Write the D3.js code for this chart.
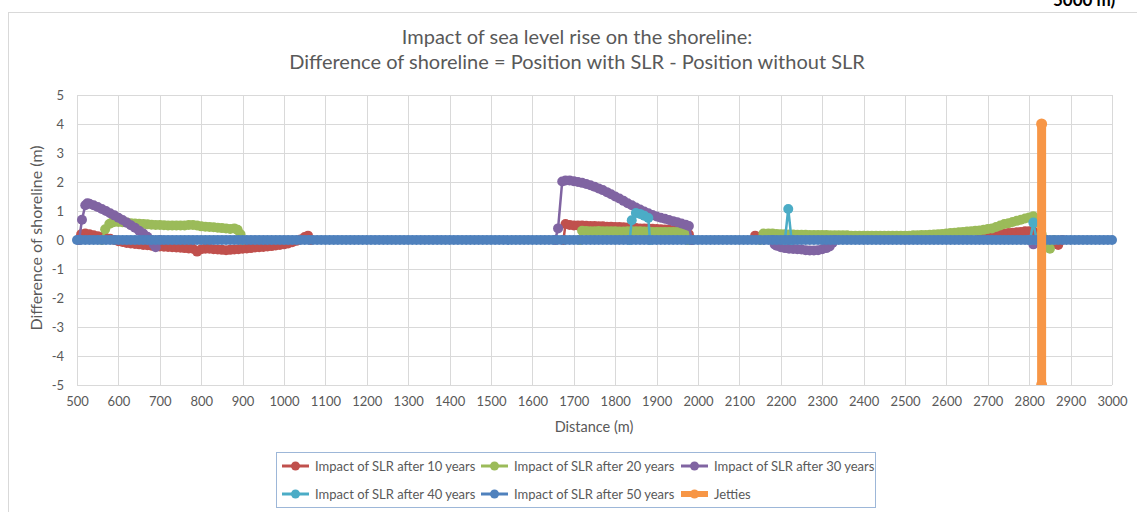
<!DOCTYPE html>
<html><head><meta charset="utf-8">
<script src="https://cdn.jsdelivr.net/npm/d3@7"></script>
<style>
html,body{margin:0;padding:0;background:#fff;}
svg{display:block;font-family:Lato,"Open Sans",sans-serif;}
</style></head>
<body>
<svg id="c" width="1137" height="512"></svg>
<script>
// ---------- data ----------
const titleLines = ["Impact of sea level rise on the shoreline:", "Difference of shoreline = Position with SLR - Position without SLR"];
const xTicks = [500,600,700,800,900,1000,1100,1200,1300,1400,1500,1600,1700,1800,1900,2000,2100,2200,2300,2400,2500,2600,2700,2800,2900,3000];
const yTicks = [-5,-4,-3,-2,-1,0,1,2,3,4,5];
const seriesNames = ["Impact of SLR after 10 years","Impact of SLR after 20 years","Impact of SLR after 30 years","Impact of SLR after 40 years","Impact of SLR after 50 years","Jetties"];
const seriesColors = ["#c0504d","#9bbb59","#8064a2","#4bacc6","#4f81bd","#f79646"];

// [distance (m), difference (m)]; null = gap in the series
const slr10 = [[505,0],[510,0.2],[520,0.22],[530,0.2],[540,0.16],[550,0.13],[560,0.1],[570,0.07],[580,0.04],[590,0],[600,-0.04],[610,-0.07],[620,-0.1],[630,-0.12],[640,-0.14],[650,-0.15],[660,-0.17],[670,-0.18],[680,-0.2],[690,-0.21],[700,-0.22],[710,-0.23],[720,-0.24],[730,-0.25],[740,-0.26],[750,-0.27],[760,-0.28],[770,-0.29],[780,-0.3],[790,-0.4],[800,-0.32],[810,-0.3],[820,-0.3],[830,-0.32],[840,-0.33],[850,-0.34],[860,-0.35],[870,-0.34],[880,-0.33],[890,-0.32],[900,-0.3],[910,-0.29],[920,-0.28],[930,-0.26],[940,-0.25],[950,-0.24],[960,-0.22],[970,-0.21],[980,-0.19],[990,-0.17],[1000,-0.15],[1010,-0.12],[1020,-0.08],[1030,-0.03],[1040,0.02],[1050,0.1],[1058,0.15],[1065,0],null,
 [1675,0],[1680,0.55],[1690,0.52],[1700,0.5],[1710,0.5],[1720,0.5],[1730,0.49],[1740,0.48],[1750,0.48],[1760,0.47],[1770,0.47],[1780,0.46],[1790,0.46],[1800,0.45],[1810,0.45],[1820,0.44],[1830,0.43],[1840,0.42],[1850,0.41],[1860,0.4],[1870,0.4],[1880,0.4],[1890,0.39],[1900,0.38],[1910,0.37],[1920,0.36],[1930,0.35],[1940,0.34],[1950,0.33],[1960,0.32],[1970,0.3],[1978,0.2],[1985,0],null,
 [2138,0.15],[2145,0.1],[2150,0.05],[2160,0.02],[2300,0.02],[2500,0.02],[2680,0.03],[2690,0.08],[2700,0.15],[2710,0.18],[2720,0.2],[2730,0.21],[2740,0.22],[2750,0.24],[2760,0.25],[2770,0.27],[2780,0.28],[2790,0.3],[2800,0.3],[2810,0.3],[2820,0.15],[2830,0.05],[2840,0],[2850,-0.05],[2860,-0.1],[2870,-0.17],[2880,0]];
const slr20 = [[560,0],[568,0.37],[578,0.55],[584,0.6],[590,0.62],[600,0.62],[610,0.61],[620,0.6],[630,0.58],[640,0.57],[650,0.56],[660,0.55],[670,0.54],[680,0.53],[690,0.52],[700,0.52],[710,0.51],[720,0.5],[730,0.5],[740,0.5],[750,0.5],[760,0.5],[770,0.52],[780,0.52],[790,0.5],[800,0.47],[810,0.46],[820,0.45],[830,0.44],[840,0.42],[850,0.41],[860,0.4],[870,0.38],[880,0.4],[888,0.35],[895,0.2],[900,0],null,
 [1715,0],[1720,0.32],[1730,0.31],[1740,0.3],[1750,0.3],[1760,0.31],[1770,0.3],[1780,0.3],[1790,0.3],[1800,0.3],[1810,0.29],[1820,0.29],[1830,0.3],[1840,0.3],[1850,0.3],[1860,0.3],[1870,0.29],[1880,0.29],[1890,0.28],[1900,0.28],[1910,0.28],[1920,0.28],[1930,0.28],[1940,0.28],[1950,0.28],[1960,0.28],[1970,0.25],[1975,0],null,
 [2150,0],[2158,0.22],[2170,0.22],[2180,0.22],[2190,0.21],[2200,0.2],[2210,0.2],[2220,0.19],[2230,0.19],[2240,0.18],[2250,0.18],[2260,0.18],[2270,0.17],[2280,0.17],[2290,0.17],[2300,0.17],[2310,0.17],[2320,0.16],[2330,0.16],[2340,0.16],[2350,0.16],[2360,0.16],[2370,0.15],[2380,0.15],[2390,0.15],[2400,0.15],[2410,0.15],[2420,0.15],[2430,0.15],[2440,0.15],[2450,0.15],[2460,0.15],[2470,0.15],[2480,0.15],[2490,0.15],[2500,0.15],[2510,0.15],[2520,0.16],[2530,0.16],[2540,0.17],[2550,0.17],[2560,0.18],[2570,0.19],[2580,0.2],[2590,0.21],[2600,0.22],[2610,0.24],[2620,0.25],[2630,0.27],[2640,0.28],[2650,0.29],[2660,0.3],[2670,0.32],[2680,0.33],[2690,0.35],[2700,0.38],[2710,0.4],[2720,0.45],[2730,0.5],[2740,0.55],[2750,0.58],[2760,0.62],[2770,0.66],[2780,0.7],[2790,0.74],[2800,0.78],[2810,0.82],[2820,0.6],[2830,0.2],[2840,-0.1],[2850,-0.3],[2860,0]];
const slr30 = [[505,0],[512,0.7],[520,1.2],[525,1.27],[530,1.25],[540,1.2],[550,1.14],[560,1.07],[570,1.0],[580,0.92],[590,0.85],[600,0.77],[610,0.69],[620,0.6],[630,0.51],[640,0.42],[650,0.32],[660,0.22],[670,0.11],[680,0],[685,-0.15],[690,-0.25],[700,0],null,
 [1655,0],[1662,0.4],[1672,2.02],[1680,2.05],[1690,2.05],[1700,2.03],[1710,2.0],[1720,1.97],[1730,1.93],[1740,1.89],[1750,1.84],[1760,1.78],[1770,1.72],[1780,1.65],[1790,1.58],[1800,1.5],[1810,1.43],[1820,1.35],[1830,1.27],[1840,1.2],[1850,1.12],[1860,1.05],[1870,0.98],[1880,0.92],[1890,0.86],[1900,0.81],[1910,0.77],[1920,0.73],[1930,0.69],[1940,0.65],[1950,0.61],[1960,0.57],[1970,0.53],[1978,0.48],[1985,0],null,
 [2180,0],[2185,-0.15],[2190,-0.2],[2200,-0.25],[2210,-0.28],[2220,-0.3],[2230,-0.31],[2240,-0.32],[2250,-0.33],[2260,-0.35],[2270,-0.36],[2280,-0.36],[2290,-0.35],[2300,-0.32],[2310,-0.28],[2318,-0.22],[2325,-0.1],[2330,0],null,
 [2800,0],[2810,-0.15],[2820,0]];
const slr40 = [[1835,0],[1840,0.68],[1850,0.93],[1860,0.9],[1870,0.84],[1880,0.76],[1884,0],null,
 [2210,0],[2218,1.07],[2226,0],null,
 [2802,0],[2810,0.6],[2818,0]];
const slr50 = [[500,0],[510,0],[520,0],[530,0],[540,0],[550,0],[560,0],[570,0],[580,0],[590,0],[600,0],[610,0],[620,0],[630,0],[640,0],[650,0],[660,0],[670,0],[680,0],[690,0],
 [700,0],[710,0],[720,0],[730,0],[740,0],[750,0],[760,0],[770,0],[780,0],[790,0],[800,0],[810,0],[820,0],[830,0],[840,0],[850,0],[860,0],[870,0],[880,0],[890,0],
 [900,0],[910,0],[920,0],[930,0],[940,0],[950,0],[960,0],[970,0],[980,0],[990,0],[1000,0],[1010,0],[1020,0],[1030,0],[1040,0],[1050,0],[1060,0],[1070,0],[1080,0],[1090,0],
 [1100,0],[1110,0],[1120,0],[1130,0],[1140,0],[1150,0],[1160,0],[1170,0],[1180,0],[1190,0],[1200,0],[1210,0],[1220,0],[1230,0],[1240,0],[1250,0],[1260,0],[1270,0],[1280,0],[1290,0],
 [1300,0],[1310,0],[1320,0],[1330,0],[1340,0],[1350,0],[1360,0],[1370,0],[1380,0],[1390,0],[1400,0],[1410,0],[1420,0],[1430,0],[1440,0],[1450,0],[1460,0],[1470,0],[1480,0],[1490,0],
 [1500,0],[1510,0],[1520,0],[1530,0],[1540,0],[1550,0],[1560,0],[1570,0],[1580,0],[1590,0],[1600,0],[1610,0],[1620,0],[1630,0],[1640,0],[1650,0],[1660,0],[1670,0],[1680,0],[1690,0],
 [1700,0],[1710,0],[1720,0],[1730,0],[1740,0],[1750,0],[1760,0],[1770,0],[1780,0],[1790,0],[1800,0],[1810,0],[1820,0],[1830,0],[1840,0],[1850,0],[1860,0],[1870,0],[1880,0],[1890,0],
 [1900,0],[1910,0],[1920,0],[1930,0],[1940,0],[1950,0],[1960,0],[1970,0],[1980,0],[1990,0],[2000,0],[2010,0],[2020,0],[2030,0],[2040,0],[2050,0],[2060,0],[2070,0],[2080,0],[2090,0],
 [2100,0],[2110,0],[2120,0],[2130,0],[2140,0],[2150,0],[2160,0],[2170,0],[2180,0],[2190,0],[2200,0],[2210,0],[2220,0],[2230,0],[2240,0],[2250,0],[2260,0],[2270,0],[2280,0],[2290,0],
 [2300,0],[2310,0],[2320,0],[2330,0],[2340,0],[2350,0],[2360,0],[2370,0],[2380,0],[2390,0],[2400,0],[2410,0],[2420,0],[2430,0],[2440,0],[2450,0],[2460,0],[2470,0],[2480,0],[2490,0],
 [2500,0],[2510,0],[2520,0],[2530,0],[2540,0],[2550,0],[2560,0],[2570,0],[2580,0],[2590,0],[2600,0],[2610,0],[2620,0],[2630,0],[2640,0],[2650,0],[2660,0],[2670,0],[2680,0],[2690,0],
 [2700,0],[2710,0],[2720,0],[2730,0],[2740,0],[2750,0],[2760,0],[2770,0],[2780,0],[2790,0],[2800,0],[2810,0],[2820,0],[2830,0],[2840,0],[2850,0],[2860,0],[2870,0],[2880,0],[2890,0],
 [2900,0],[2910,0],[2920,0],[2930,0],[2940,0],[2950,0],[2960,0],[2970,0],[2980,0],[2990,0],[3000,0]];
const jetties = [[2830,4],[2830,-5]];

// ---------- layout ----------
const svg = d3.select("#c");
const m = {left:77, right:1112, top:95, bottom:385};
const x = d3.scaleLinear().domain([500,3000]).range([m.left, m.right]);
const y = d3.scaleLinear().domain([-5,5]).range([m.bottom, m.top]);
const textCol = "#595959";

svg.append("defs").append("clipPath").attr("id","plotclip").append("rect")
  .attr("x",m.left-8).attr("y",m.top-8).attr("width",m.right-m.left+16).attr("height",m.bottom-m.top+8);

// chart frame
svg.append("rect").attr("x",8.5).attr("y",12.5).attr("width",1140).attr("height",510)
  .attr("fill","#fff").attr("stroke","#d9d9d9");

// clipped top-right text fragment (cut by the picture edge in the reference too)
svg.append("text").attr("x",1053).attr("y",6).attr("font-size",17).attr("font-weight","bold")
  .attr("fill","#000").text("5000 m)");

// title
svg.selectAll("text.title").data(titleLines).join("text").attr("class","title")
  .attr("x",577).attr("y",(d,i)=>44+i*25).attr("text-anchor","middle")
  .attr("font-size",20).attr("fill",textCol).text(d=>d);

// grid
const g = svg.append("g");
g.selectAll("line.vg").data(xTicks).join("line")
  .attr("x1",d=>Math.round(x(d))+0.5).attr("x2",d=>Math.round(x(d))+0.5)
  .attr("y1",m.top).attr("y2",m.bottom).attr("stroke","#d9d9d9");
g.selectAll("line.hg").data(yTicks).join("line")
  .attr("y1",d=>Math.round(y(d))+0.5).attr("y2",d=>Math.round(y(d))+0.5)
  .attr("x1",m.left).attr("x2",m.right).attr("stroke","#d9d9d9");

// axes
const fmt = d => String(d);
const xAxis = d3.axisBottom(x).tickValues(xTicks).tickSize(0).tickPadding(12).tickFormat(fmt);
const yAxis = d3.axisLeft(y).tickValues(yTicks).tickSize(0).tickPadding(13).tickFormat(fmt);
const gx = svg.append("g").attr("transform",`translate(0,${m.bottom})`).call(xAxis);
const gy = svg.append("g").attr("transform",`translate(${m.left},0)`).call(yAxis);
[gx,gy].forEach(a=>{a.select(".domain").remove();
  a.selectAll("text").attr("fill",textCol).attr("font-size",13).attr("font-family","Lato,sans-serif");});

svg.append("text").attr("x",594).attr("y",432).attr("text-anchor","middle")
  .attr("font-size",14.5).attr("fill",textCol).text("Distance (m)");
svg.append("text").attr("transform","translate(42,238) rotate(-90)").attr("text-anchor","middle")
  .attr("font-size",16).attr("fill",textCol).text("Difference of shoreline (m)");

// series
const allSeries = [slr10, slr20, slr30, slr40, slr50, jetties];
const line = d3.line().defined(d=>d!==null).x(d=>x(d[0])).y(d=>y(d[1]));
const plot = svg.append("g").attr("clip-path","url(#plotclip)");
allSeries.forEach((s,i)=>{
  const isJ = i===5;
  plot.append("path").datum(s).attr("d",line).attr("fill","none")
    .attr("stroke",seriesColors[i]).attr("stroke-width",isJ?9:2.5).attr("stroke-linejoin","round");
  plot.selectAll(null).data(s.filter(d=>d!==null)).join("circle")
    .attr("cx",d=>x(d[0])).attr("cy",d=>y(d[1])).attr("r",isJ?5.5:5)
    .attr("fill",seriesColors[i]);
});

// legend
const lg = svg.append("g");
lg.append("rect").attr("x",276.5).attr("y",452.5).attr("width",599).attr("height",55)
  .attr("fill","#fff").attr("stroke","#9db7d8");
const legPos = [[282,466],[481,466],[681,466],[282,494],[481,494],[681,494]];
seriesNames.forEach((n,i)=>{
  const [lx,ly]=legPos[i];
  const isJ = i===5;
  lg.append("line").attr("x1",lx).attr("x2",lx+27).attr("y1",ly).attr("y2",ly)
    .attr("stroke",seriesColors[i]).attr("stroke-width",isJ?6:3);
  lg.append("circle").attr("cx",lx+13.5).attr("cy",ly).attr("r",4.5).attr("fill",seriesColors[i]);
  lg.append("text").attr("x",lx+33).attr("y",ly+4.5).attr("font-size",13).attr("fill",textCol).text(n);
});
</script>
</body></html>
